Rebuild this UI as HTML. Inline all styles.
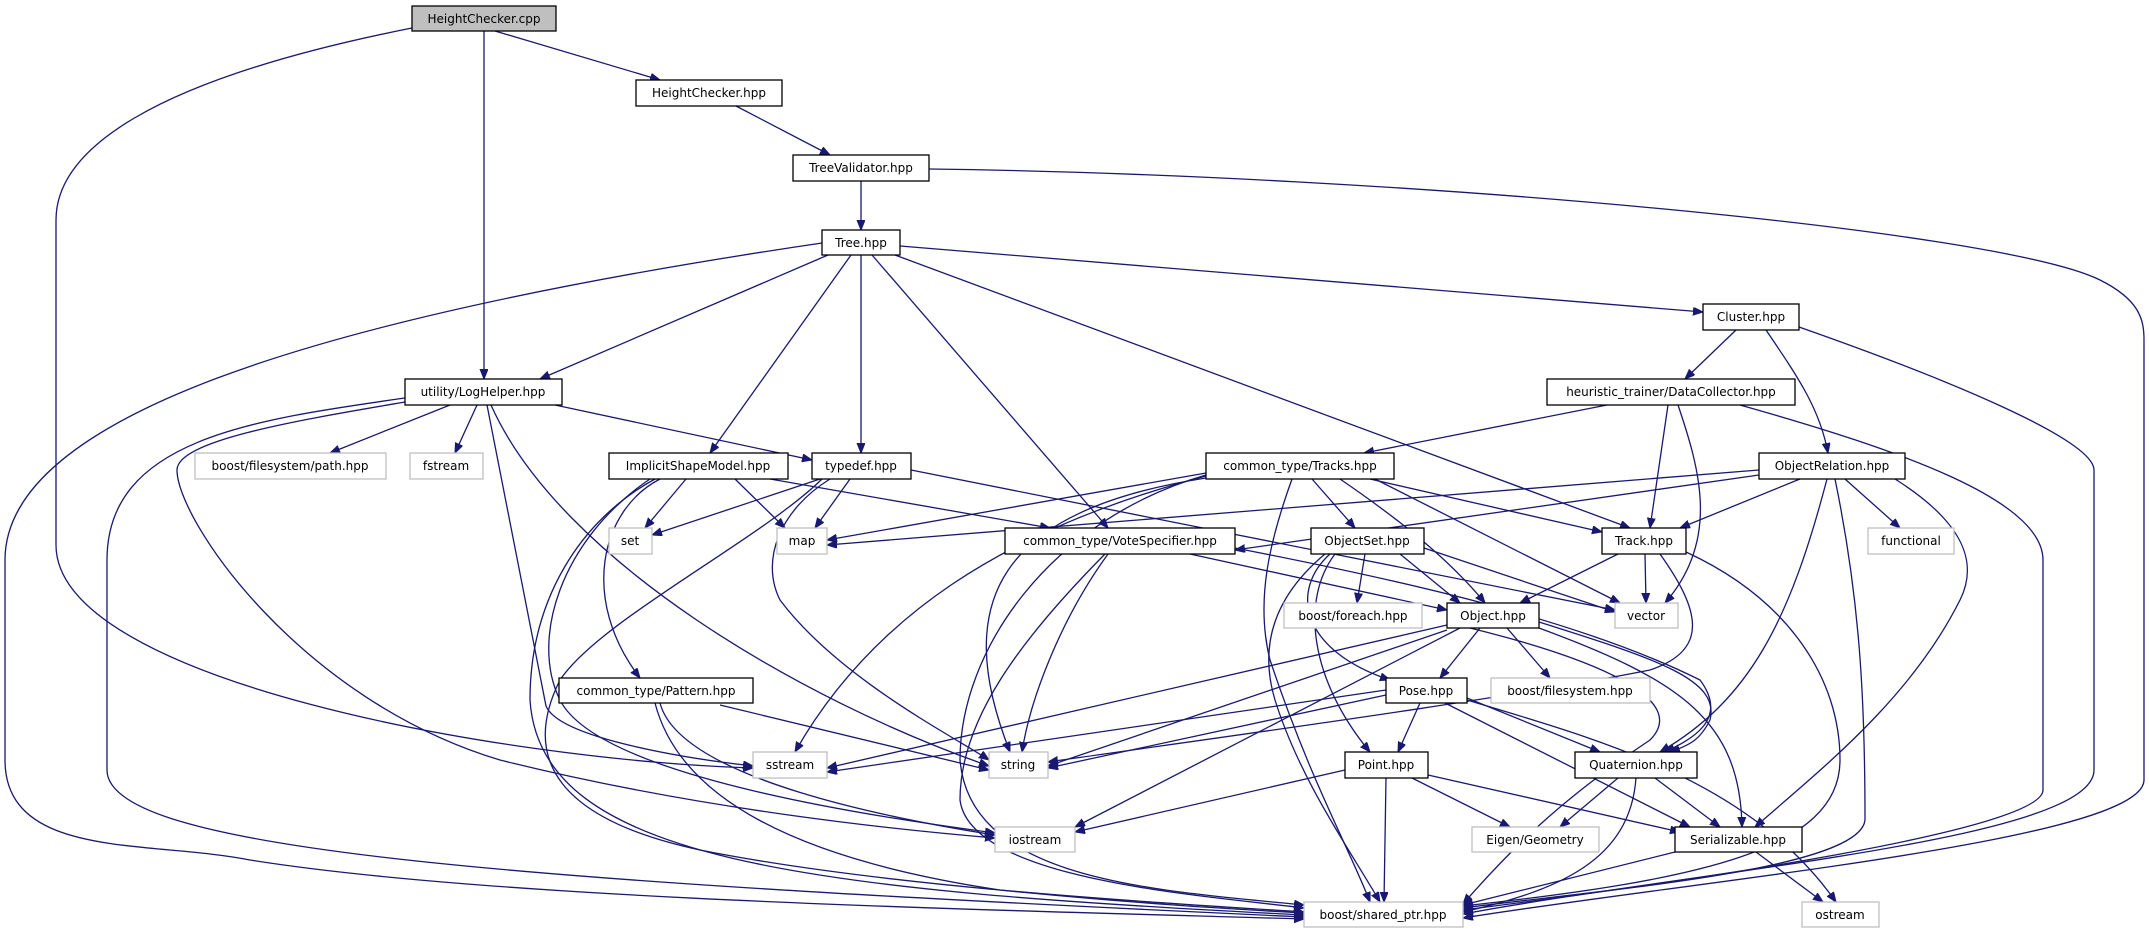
<!DOCTYPE html>
<html><head><meta charset="utf-8"><style>
html,body{margin:0;padding:0;background:#fff;}
svg{display:block;}
text{font-family:"DejaVu Sans","Liberation Sans",sans-serif;font-size:12px;fill:#000;text-anchor:middle;}
.e{fill:none;stroke:#191970;stroke-width:1.3;marker-end:url(#a);}
.n{fill:#fff;stroke:#000;stroke-width:1.3;}
.x{fill:#fff;stroke:#bfbfbf;stroke-width:1.3;}
</style></head><body>
<svg width="2149" height="933" viewBox="0 0 2149 933" xmlns="http://www.w3.org/2000/svg">
<defs><marker id="a" markerUnits="userSpaceOnUse" markerWidth="12" markerHeight="10" refX="10" refY="4" orient="auto"><path d="M0,0 L10,4 L0,8 z" fill="#191970" stroke="#191970"/></marker></defs>
<g>
<path class="e" d="M495,31 L660,80"/>
<path class="e" d="M484,31 L484,379"/>
<path class="e" d="M412,28 C150,80 56,150 56,220 L56,545 C56,680 500,760 753,768"/>
<path class="e" d="M736,106 L830,155"/>
<path class="e" d="M861,181 L861,230"/>
<path class="e" d="M929,169 C1400,175 2000,230 2100,280 C2140,300 2144,320 2144,340 L2144,780 C2144,840 1700,880 1463,918"/>
<path class="e" d="M828,255 L540,379"/>
<path class="e" d="M822,243 C300,320 5,420 5,560 L5,760 C5,860 150,840 250,860 C500,900 1000,910 1304,919"/>
<path class="e" d="M851,255 L710,453"/>
<path class="e" d="M861,255 L861,453"/>
<path class="e" d="M872,255 L1108,528"/>
<path class="e" d="M895,255 L1630,528"/>
<path class="e" d="M900,246 L1703,312"/>
<path class="e" d="M1736,330 L1685,379"/>
<path class="e" d="M1766,330 C1800,380 1820,410 1828,453"/>
<path class="e" d="M1799,327 C1950,380 2094,440 2094,470 L2094,770 C2094,840 1700,870 1463,914"/>
<path class="e" d="M1607,405 L1364,453"/>
<path class="e" d="M1668,405 L1650,528"/>
<path class="e" d="M1678,405 C1700,470 1720,540 1665,603"/>
<path class="e" d="M1740,405 C1900,450 2043,500 2043,560 L2043,790 C2043,830 1700,880 1463,910"/>
<path class="e" d="M450,405 L330,453"/>
<path class="e" d="M477,405 L455,453"/>
<path class="e" d="M555,405 L812,460"/>
<path class="e" d="M491,405 C560,560 800,700 989,766"/>
<path class="e" d="M405,402 C300,420 177,440 177,470 C177,520 300,700 500,760 C700,810 900,830 995,838"/>
<path class="e" d="M405,398 C250,420 107,440 107,560 L107,770 C107,850 500,880 1304,917"/>
<path class="e" d="M487,405 L546,706 C560,740 700,760 753,766"/>
<path class="e" d="M686,479 L645,528"/>
<path class="e" d="M735,479 L785,528"/>
<path class="e" d="M770,479 L1050,528"/>
<path class="e" d="M660,479 C600,510 580,600 640,678"/>
<path class="e" d="M655,479 C580,520 530,600 530,700 C540,860 800,890 1304,915"/>
<path class="e" d="M650,479 C560,540 530,640 560,700 C600,780 900,820 995,833"/>
<path class="e" d="M820,479 L652,535"/>
<path class="e" d="M850,479 L815,528"/>
<path class="e" d="M830,479 C780,510 760,560 780,600 C840,680 960,740 989,760"/>
<path class="e" d="M822,479 C760,540 600,620 560,680 C520,760 560,820 700,850 C900,890 1200,905 1304,912"/>
<path class="e" d="M911,470 L1615,610"/>
<path class="e" d="M1206,473 L827,540"/>
<path class="e" d="M1206,476 C1000,530 870,620 795,752"/>
<path class="e" d="M1206,478 C1000,510 950,600 1010,752"/>
<path class="e" d="M1206,475 C1050,520 960,650 960,760 C970,880 1150,890 1304,905"/>
<path class="e" d="M1312,479 L1355,528"/>
<path class="e" d="M1340,479 C1400,520 1450,560 1485,603"/>
<path class="e" d="M1370,479 L1602,532"/>
<path class="e" d="M1375,479 L1620,603"/>
<path class="e" d="M1292,479 C1270,540 1255,600 1270,660 C1310,780 1350,850 1370,902"/>
<path class="e" d="M1759,470 L827,545"/>
<path class="e" d="M1759,475 L1235,550"/>
<path class="e" d="M1800,479 L1680,528"/>
<path class="e" d="M1845,479 L1900,528"/>
<path class="e" d="M1827,479 C1790,620 1750,700 1660,752"/>
<path class="e" d="M1895,479 C1960,520 1980,560 1960,600 C1910,700 1820,770 1755,827"/>
<path class="e" d="M1835,479 C1860,600 1865,700 1865,820 C1860,870 1600,890 1463,908"/>
<path class="e" d="M1190,554 L1447,610"/>
<path class="e" d="M1108,554 C1060,620 1030,700 1022,752"/>
<path class="e" d="M1105,554 C1020,640 960,720 960,800 C970,880 1200,895 1304,908"/>
<path class="e" d="M1235,548 C1400,580 1580,620 1700,680 C1730,720 1690,740 1665,752"/>
<path class="e" d="M1365,554 L1357,603"/>
<path class="e" d="M1400,554 L1460,603"/>
<path class="e" d="M1424,548 L1615,612"/>
<path class="e" d="M1330,554 C1290,590 1300,650 1390,680"/>
<path class="e" d="M1335,554 C1300,600 1310,680 1370,752"/>
<path class="e" d="M1325,554 C1270,600 1260,650 1275,700 C1300,780 1350,850 1380,902"/>
<path class="e" d="M1618,554 L1520,603"/>
<path class="e" d="M1645,554 L1646,603"/>
<path class="e" d="M1660,554 C1700,610 1710,650 1650,670 C1500,700 1200,740 1048,762"/>
<path class="e" d="M1686,552 C1790,600 1840,680 1840,760 C1840,850 1700,880 1463,906"/>
<path class="e" d="M1480,628 L1440,678"/>
<path class="e" d="M1507,628 L1550,678"/>
<path class="e" d="M1447,625 L827,768"/>
<path class="e" d="M1447,630 L1048,766"/>
<path class="e" d="M1460,628 L1075,827"/>
<path class="e" d="M1470,628 C1600,660 1690,700 1650,740 C1560,800 1510,850 1463,904"/>
<path class="e" d="M1539,622 C1660,660 1720,680 1710,720 C1700,740 1690,745 1670,752"/>
<path class="e" d="M1539,628 C1680,680 1740,720 1742,827"/>
<path class="e" d="M1420,703 L1398,752"/>
<path class="e" d="M1467,698 L1600,752"/>
<path class="e" d="M1445,703 L1690,827"/>
<path class="e" d="M1467,700 C1600,740 1750,780 1836,902"/>
<path class="e" d="M1386,695 L1048,768"/>
<path class="e" d="M1386,690 L827,772"/>
<path class="e" d="M1345,770 L1075,832"/>
<path class="e" d="M1386,778 L1384,902"/>
<path class="e" d="M1412,778 L1510,827"/>
<path class="e" d="M1428,775 L1680,832"/>
<path class="e" d="M1618,778 L1560,827"/>
<path class="e" d="M1655,778 L1720,827"/>
<path class="e" d="M1636,778 C1630,860 1560,890 1463,912"/>
<path class="e" d="M1675,852 L1463,905"/>
<path class="e" d="M1756,852 L1823,902"/>
<path class="e" d="M720,705 L989,770"/>
<path class="e" d="M660,703 C680,780 900,820 995,835"/>
<path class="e" d="M655,703 C680,800 800,860 1000,890 C1150,905 1250,910 1304,913"/>
</g>
<g>
<rect x="412" y="6" width="144" height="25" fill="#bfbfbf" stroke="#000" stroke-width="1.3"/><text x="484" y="23">HeightChecker.cpp</text>
<rect class="n" x="636" y="80" width="146" height="26"/><text x="709" y="97">HeightChecker.hpp</text>
<rect class="n" x="793" y="155" width="136" height="26"/><text x="861" y="172">TreeValidator.hpp</text>
<rect class="n" x="822" y="230" width="78" height="25"/><text x="861" y="247">Tree.hpp</text>
<rect class="n" x="1703" y="304" width="96" height="26"/><text x="1751" y="321">Cluster.hpp</text>
<rect class="n" x="405" y="379" width="157" height="26"/><text x="483" y="396">utility/LogHelper.hpp</text>
<rect class="n" x="1547" y="379" width="248" height="26"/><text x="1671" y="396">heuristic_trainer/DataCollector.hpp</text>
<rect class="x" x="195" y="453" width="191" height="26"/><text x="290" y="470">boost/filesystem/path.hpp</text>
<rect class="x" x="410" y="453" width="73" height="26"/><text x="446" y="470">fstream</text>
<rect class="n" x="609" y="453" width="179" height="26"/><text x="698" y="470">ImplicitShapeModel.hpp</text>
<rect class="n" x="812" y="453" width="99" height="26"/><text x="861" y="470">typedef.hpp</text>
<rect class="n" x="1206" y="453" width="188" height="26"/><text x="1300" y="470">common_type/Tracks.hpp</text>
<rect class="n" x="1759" y="453" width="146" height="26"/><text x="1832" y="470">ObjectRelation.hpp</text>
<rect class="x" x="609" y="528" width="43" height="26"/><text x="630" y="545">set</text>
<rect class="x" x="777" y="528" width="50" height="26"/><text x="802" y="545">map</text>
<rect class="n" x="1005" y="528" width="230" height="26"/><text x="1120" y="545">common_type/VoteSpecifier.hpp</text>
<rect class="n" x="1311" y="528" width="113" height="26"/><text x="1367" y="545">ObjectSet.hpp</text>
<rect class="n" x="1602" y="528" width="84" height="26"/><text x="1644" y="545">Track.hpp</text>
<rect class="x" x="1868" y="528" width="86" height="26"/><text x="1911" y="545">functional</text>
<rect class="x" x="1284" y="603" width="138" height="25"/><text x="1353" y="620">boost/foreach.hpp</text>
<rect class="n" x="1447" y="603" width="92" height="25"/><text x="1493" y="620">Object.hpp</text>
<rect class="x" x="1615" y="603" width="63" height="25"/><text x="1646" y="620">vector</text>
<rect class="n" x="559" y="678" width="194" height="25"/><text x="656" y="695">common_type/Pattern.hpp</text>
<rect class="n" x="1386" y="678" width="81" height="25"/><text x="1426" y="695">Pose.hpp</text>
<rect class="x" x="1491" y="678" width="159" height="25"/><text x="1570" y="695">boost/filesystem.hpp</text>
<rect class="x" x="753" y="752" width="74" height="26"/><text x="790" y="769">sstream</text>
<rect class="x" x="989" y="752" width="59" height="26"/><text x="1018" y="769">string</text>
<rect class="n" x="1345" y="752" width="83" height="26"/><text x="1386" y="769">Point.hpp</text>
<rect class="n" x="1575" y="752" width="122" height="26"/><text x="1636" y="769">Quaternion.hpp</text>
<rect class="x" x="995" y="827" width="80" height="25"/><text x="1035" y="844">iostream</text>
<rect class="x" x="1472" y="827" width="127" height="25"/><text x="1535" y="844">Eigen/Geometry</text>
<rect class="n" x="1675" y="827" width="127" height="25"/><text x="1738" y="844">Serializable.hpp</text>
<rect class="x" x="1304" y="902" width="159" height="25"/><text x="1383" y="919">boost/shared_ptr.hpp</text>
<rect class="x" x="1802" y="902" width="77" height="25"/><text x="1840" y="919">ostream</text>
</g>
</svg>
</body></html>
